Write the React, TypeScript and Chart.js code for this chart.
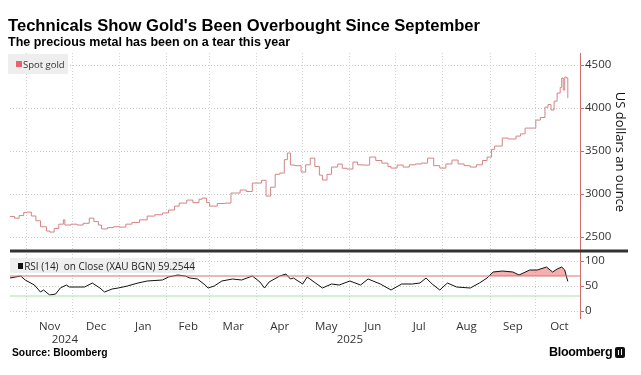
import React, { useEffect, useRef } from "react";
import { Chart, registerables } from "chart.js";

Chart.register(...registerables);

// ---------- data ----------
const startDate = "2024-10-21";
const endDate = "2025-10-30";

const priceDates = [
  "2024-10-21","2024-10-24","2024-10-27","2024-10-30","2024-11-01","2024-11-04","2024-11-07","2024-11-10",
  "2024-11-14","2024-11-16","2024-11-19","2024-11-22","2024-11-25","2024-11-26","2024-11-30","2024-12-04",
  "2024-12-08","2024-12-12","2024-12-15","2024-12-18","2024-12-20","2024-12-24","2024-12-28","2025-01-01",
  "2025-01-05","2025-01-09","2025-01-14","2025-01-19","2025-01-24","2025-01-29","2025-02-02","2025-02-06",
  "2025-02-09","2025-02-14","2025-02-18","2025-02-22","2025-02-24","2025-02-27","2025-03-01","2025-03-06",
  "2025-03-11","2025-03-15","2025-03-21","2025-03-25","2025-03-29","2025-04-04","2025-04-07","2025-04-10",
  "2025-04-13","2025-04-16","2025-04-19","2025-04-21","2025-04-23","2025-04-26","2025-04-30","2025-05-03",
  "2025-05-06","2025-05-09","2025-05-12","2025-05-14","2025-05-17","2025-05-20","2025-05-24","2025-05-27",
  "2025-05-30","2025-06-03","2025-06-06","2025-06-09","2025-06-14","2025-06-18","2025-06-22","2025-06-26",
  "2025-06-28","2025-07-02","2025-07-06","2025-07-10","2025-07-14","2025-07-18","2025-07-22","2025-07-26",
  "2025-07-30","2025-08-03","2025-08-07","2025-08-11","2025-08-15","2025-08-19","2025-08-23","2025-08-27",
  "2025-08-30","2025-09-02","2025-09-04","2025-09-09","2025-09-13","2025-09-18","2025-09-21","2025-09-24",
  "2025-09-29","2025-10-01","2025-10-04","2025-10-07","2025-10-09","2025-10-11","2025-10-13","2025-10-15",
  "2025-10-17","2025-10-18","2025-10-19","2025-10-20","2025-10-21","2025-10-22",
];
const priceValues = [
  2740, 2720, 2750, 2785, 2790, 2745, 2690, 2620,
  2570, 2558, 2600, 2650, 2700, 2640, 2650, 2640,
  2660, 2720, 2680, 2640, 2595, 2610, 2620, 2616,
  2650, 2670, 2700, 2744, 2760, 2780, 2814, 2860,
  2895, 2930, 2900, 2940, 2953, 2900, 2860, 2890,
  2895, 3012, 3047, 3030, 3128, 3160, 2977, 3080,
  3230, 3244, 3400, 3477, 3337, 3330, 3256, 3340,
  3418, 3320, 3220, 3163, 3230, 3314, 3349, 3300,
  3291, 3372, 3340, 3337, 3430, 3390, 3360, 3320,
  3302, 3337, 3314, 3340, 3350, 3360, 3418, 3330,
  3302, 3350, 3395, 3350, 3330, 3314, 3340, 3390,
  3430, 3520, 3558, 3651, 3640, 3674, 3700, 3767,
  3767, 3860, 3890, 4010, 4040, 3977, 4080, 4174,
  4240, 4349, 4209, 4360, 4350, 4116,
];

const rsiDates = [
  "2024-10-21","2024-10-28","2024-10-31","2024-11-06","2024-11-10","2024-11-12","2024-11-16","2024-11-20",
  "2024-11-23","2024-11-27","2024-11-29","2024-12-04","2024-12-09","2024-12-14","2024-12-19","2024-12-22",
  "2024-12-27","2024-12-31","2025-01-06","2025-01-13","2025-01-19","2025-01-29","2025-02-02","2025-02-08",
  "2025-02-13","2025-02-16","2025-02-21","2025-02-26","2025-02-28","2025-03-04","2025-03-09","2025-03-16",
  "2025-03-22","2025-03-29","2025-04-03","2025-04-06","2025-04-09","2025-04-16","2025-04-20","2025-04-23",
  "2025-04-25","2025-05-01","2025-05-04","2025-05-14","2025-05-20","2025-05-25","2025-06-01","2025-06-08",
  "2025-06-13","2025-06-21","2025-06-28","2025-07-05","2025-07-12","2025-07-17","2025-07-21","2025-07-25",
  "2025-07-30","2025-08-04","2025-08-10","2025-08-19","2025-08-25","2025-08-30","2025-09-03","2025-09-09",
  "2025-09-16","2025-09-20","2025-09-27","2025-10-02","2025-10-08","2025-10-12","2025-10-15","2025-10-18",
  "2025-10-20","2025-10-21","2025-10-22",
];
const rsiValues = [
  66, 70, 62, 52, 38, 42, 32, 34,
  46, 52, 48, 48, 48, 56, 46, 38,
  44, 46, 50, 56, 60, 62, 68, 72,
  70, 66, 64, 52, 46, 50, 60, 64,
  62, 70, 58, 46, 58, 70, 74, 64,
  66, 54, 68, 46, 54, 52, 60, 52,
  64, 54, 42, 54, 54, 56, 66, 54,
  42, 56, 48, 46, 56, 66, 78, 80,
  78, 72, 82, 82, 88, 78, 84, 88,
  82, 70, 59.2544,
];

const overboughtLevel = 70;
const oversoldLevel = 30;
const priceTicks = [2500, 3000, 3500, 4000, 4500];
const rsiTicks = [0, 50, 100];
const monthNames = ["Jan","Feb","Mar","Apr","May","Jun","Jul","Aug","Sep","Oct","Nov","Dec"];
const yearLabels = ["2024", "2025"];
const rsiLegend = "RSI (14)  on Close (XAU BGN) 59.2544";
const priceLegend = "Spot gold";

// ---------- helpers ----------
const DAY = 86400000;
const startMs = Date.parse(startDate + "T00:00:00Z");
const toDay = (s: string) => (Date.parse(s + "T00:00:00Z") - startMs) / DAY;
const ymdDay = (y: number, m: number, d: number) => (Date.UTC(y, m, d) - startMs) / DAY;
const xMin = 0;
const xMax = toDay(endDate);

const monthStarts: number[] = [];
const monthMids: { v: number; label: string }[] = [];
{
  const s = new Date(startMs);
  let y = s.getUTCFullYear();
  let m = s.getUTCMonth() + 1;
  for (;;) {
    const st = ymdDay(y, m, 1);
    if (st > xMax) break;
    const nx = ymdDay(y, m + 1, 1);
    monthStarts.push(st);
    monthMids.push({ v: (st + nx) / 2, label: monthNames[((m % 12) + 12) % 12] });
    m++;
    if (m > 11) { m = 0; y++; }
  }
}
const startSet = new Set(monthStarts);
const midMap = new Map(monthMids.map((o) => [o.v, o.label]));

const AXIS_RED = "#d46b6b";
const GRID = "#c9c9c9";
const TEXT = "#333333";
const FONT = "'Open Sans', 'Noto Sans', sans-serif";

const overlayPlugin = {
  id: "overlay",
  afterDraw(chart: any) {
    const { ctx, scales, chartArea } = chart;
    const xs = scales.x;
    const r = scales.y2;
    ctx.save();
    ctx.strokeStyle = "#333";
    ctx.lineWidth = 3;
    ctx.beginPath();
    ctx.moveTo(chartArea.left, r.top);
    ctx.lineTo(chart.width - 13, r.top);
    ctx.stroke();
    ctx.fillStyle = TEXT;
    ctx.font = "11.5px " + FONT;
    ctx.textAlign = "center";
    ctx.textBaseline = "middle";
    yearLabels.forEach((yl) => {
      const y = Number(yl);
      const s = Math.max(xs.min, ymdDay(y, 0, 1));
      const e = Math.min(xs.max, ymdDay(y + 1, 0, 1));
      ctx.fillText(yl, xs.getPixelForValue((s + e) / 2), xs.top + 22);
    });
    ctx.restore();
  },
};

export default function App() {
  const ref = useRef<HTMLCanvasElement>(null);

  useEffect(() => {
    const priceData = priceDates.map((d, i) => ({ x: toDay(d), y: priceValues[i] }));
    const rsiData = rsiDates.map((d, i) => ({ x: toDay(d), y: rsiValues[i] }));
    const chart = new Chart(ref.current as HTMLCanvasElement, {
      type: "line",
      data: {
        datasets: [
          {
            data: priceData,
            yAxisID: "y",
            borderColor: "#d48484",
            borderWidth: 1,
            pointRadius: 0,
            stepped: true,
            fill: false,
          },
          {
            data: [{ x: xMin, y: overboughtLevel }, { x: xMax, y: overboughtLevel }],
            yAxisID: "y2",
            borderColor: "#d87070",
            borderWidth: 1,
            pointRadius: 0,
            fill: false,
          },
          {
            data: [{ x: xMin, y: oversoldLevel }, { x: xMax, y: oversoldLevel }],
            yAxisID: "y2",
            borderColor: "#a6e3a6",
            borderWidth: 1,
            pointRadius: 0,
            fill: false,
          },
          {
            data: rsiData,
            yAxisID: "y2",
            borderColor: "#111",
            borderWidth: 1,
            pointRadius: 0,
            tension: 0,
            fill: {
              target: { value: overboughtLevel },
              above: "rgba(240,120,120,0.6)",
              below: "rgba(0,0,0,0)",
            },
          },
        ],
      },
      options: {
        animation: false,
        responsive: false,
        maintainAspectRatio: false,
        events: [],
        layout: { padding: { left: 10, right: 0, top: 53, bottom: 29 } },
        plugins: { legend: { display: false }, tooltip: { enabled: false } },
        scales: {
          x: {
            type: "linear",
            min: xMin,
            max: xMax,
            afterBuildTicks: (s: any) => {
              const vals = [...monthStarts, ...monthMids.map((o) => o.v)]
                .filter((v) => v >= xMin && v <= xMax)
                .sort((a, b) => a - b);
              s.ticks = vals.map((v) => ({ value: v }));
            },
            afterFit: (s: any) => { s.height = 28; },
            grid: {
              color: (c: any) => (c.tick && startSet.has(c.tick.value) ? "#d2d2d2" : "rgba(0,0,0,0)"),
              drawTicks: false,
              lineWidth: 1,
            },
            border: { display: false, dash: [1, 2] },
            ticks: {
              autoSkip: false,
              maxRotation: 0,
              padding: 2,
              color: TEXT,
              font: { family: FONT, size: 11.5 },
              callback: (v: any) => midMap.get(v) || "",
            },
          },
          y: {
            position: "right",
            stack: "panes",
            stackWeight: 198,
            min: 2338,
            max: 4640,
            afterBuildTicks: (s: any) => { s.ticks = priceTicks.map((v) => ({ value: v })); },
            afterFit: (s: any) => { s.width = 61; },
            grid: { color: GRID, tickColor: AXIS_RED, tickLength: 4, lineWidth: 1 },
            border: { display: true, color: AXIS_RED, width: 1, dash: [1, 2] },
            ticks: {
              padding: 1,
              color: TEXT,
              font: { family: FONT, size: 11.5 },
              callback: (v: any) => String(v),
            },
            title: {
              display: true,
              text: "US dollars an ounce",
              color: "#111",
              font: { family: FONT, size: 13 },
              padding: { top: 13, bottom: 0 },
            },
          },
          y2: {
            position: "right",
            stack: "panes",
            stackWeight: 67,
            min: -14,
            max: 120,
            afterBuildTicks: (s: any) => { s.ticks = rsiTicks.map((v) => ({ value: v })); },
            afterFit: (s: any) => { s.width = 61; },
            grid: { color: GRID, tickColor: AXIS_RED, tickLength: 4, lineWidth: 1 },
            border: { display: true, color: AXIS_RED, width: 1, dash: [1, 2] },
            ticks: {
              padding: 1,
              color: TEXT,
              font: { family: FONT, size: 11.5 },
              callback: (v: any) => String(v),
            },
          },
        },
      } as any,
      plugins: [overlayPlugin],
    } as any);
    return () => chart.destroy();
  }, []);

  const bold = "'Liberation Sans', Arial, sans-serif";
  return (
    <div
      style={{
        position: "fixed",
        left: 0,
        top: 0,
        width: 641,
        height: 375,
        background: "#fff",
        overflow: "hidden",
      }}
    >
      <canvas
        ref={ref}
        width={641}
        height={375}
        style={{ position: "absolute", left: 0, top: 0, width: 641, height: 375 }}
      />
      <div
        style={{
          position: "absolute", left: 8, top: 15.5, fontFamily: bold, fontWeight: 700,
          fontSize: 16.6, lineHeight: "19px", color: "#000", whiteSpace: "nowrap",
        }}
      >
        Technicals Show Gold's Been Overbought Since September
      </div>
      <div
        style={{
          position: "absolute", left: 8, top: 35, fontFamily: bold, fontWeight: 700,
          fontSize: 12.5, lineHeight: "15px", color: "#000", whiteSpace: "nowrap",
        }}
      >
        The precious metal has been on a tear this year
      </div>
      <div
        style={{
          position: "absolute", left: 8, top: 54, width: 60, height: 20, background: "#eeeeee",
          display: "flex", alignItems: "center", fontFamily: FONT, fontSize: 9.5, color: TEXT,
        }}
      >
        <span style={{ display: "inline-block", width: 6, height: 6, background: "#e8636a", marginLeft: 8, marginRight: 1 }} />
        <span>{priceLegend}</span>
      </div>
      <div
        style={{
          position: "absolute", left: 10, top: 258, width: 185, height: 15, background: "#eeeeee",
          display: "flex", alignItems: "center", fontFamily: FONT, fontSize: 10, color: "#222",
          whiteSpace: "pre",
        }}
      >
        <span style={{ display: "inline-block", width: 6, height: 6, background: "#111", marginLeft: 8, marginRight: 1 }} />
        <span>{rsiLegend}</span>
      </div>
      <div
        style={{
          position: "absolute", left: 12, top: 347, fontFamily: bold, fontWeight: 700,
          fontSize: 10.3, lineHeight: "12px", color: "#000", whiteSpace: "nowrap",
        }}
      >
        Source: Bloomberg
      </div>
      <div
        style={{
          position: "absolute", left: 549, top: 344.7, fontFamily: bold, fontWeight: 700,
          fontSize: 12.5, lineHeight: "14px", letterSpacing: "-0.3px", color: "#000", whiteSpace: "nowrap",
        }}
      >
        Bloomberg
      </div>
      <div
        style={{
          position: "absolute", left: 615, top: 347, width: 10, height: 11, background: "#111",
          borderRadius: 2,
        }}
      >
        <div style={{ position: "absolute", left: 3, top: 3, width: 1, height: 5, background: "#fff" }} />
        <div style={{ position: "absolute", left: 6, top: 2, width: 1, height: 6, background: "#fff" }} />
      </div>
    </div>
  );
}
